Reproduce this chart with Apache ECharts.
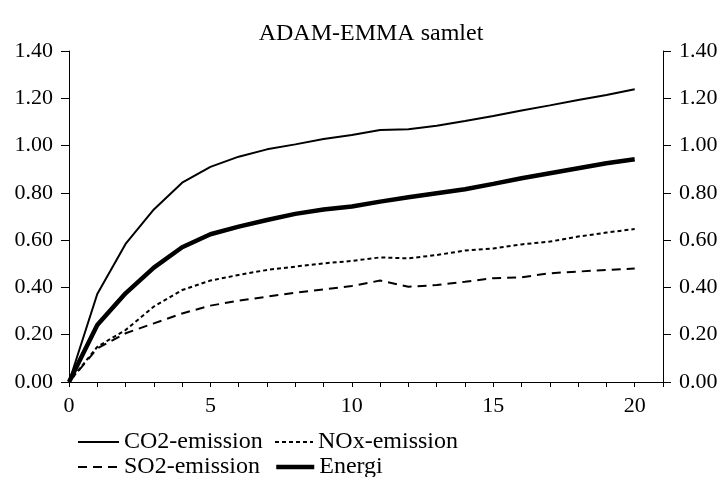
<!doctype html>
<html lang="da">
<head>
    <meta charset="UTF-8">
    <script src="https://cdn.jsdelivr.net/npm/echarts@6/dist/echarts.min.js"></script>
    <title>ADAM-EMMA samlet</title>
</head>
<body style="margin:0">
<div id="main" style="width: 722px;height:477px;"></div>
<script>
    // år 0..20
    var years = [0, 1, 2, 3, 4, 5, 6, 7, 8, 9, 10, 11, 12, 13, 14, 15, 16, 17, 18, 19, 20];
    var co2 = [0, 0.372, 0.584, 0.730, 0.843, 0.910, 0.953, 0.984, 1.005, 1.028, 1.045, 1.066, 1.069, 1.084, 1.104, 1.125, 1.148, 1.170, 1.193, 1.214, 1.238];
    var nox = [0, 0.149, 0.220, 0.319, 0.389, 0.429, 0.453, 0.474, 0.488, 0.502, 0.512, 0.527, 0.523, 0.537, 0.556, 0.565, 0.582, 0.594, 0.615, 0.632, 0.647];
    var so2 = [0, 0.142, 0.206, 0.248, 0.290, 0.323, 0.344, 0.361, 0.378, 0.392, 0.406, 0.429, 0.403, 0.410, 0.424, 0.439, 0.443, 0.460, 0.467, 0.474, 0.480];
    var energi = [0, 0.241, 0.375, 0.484, 0.570, 0.625, 0.657, 0.685, 0.711, 0.730, 0.742, 0.763, 0.781, 0.798, 0.815, 0.838, 0.862, 0.883, 0.904, 0.925, 0.942];

    function pairs(vals) {
        var out = [];
        for (var i = 0; i < years.length; i++) {
            out.push([years[i], vals[i]]);
        }
        return out;
    }

    var font = 'Liberation Serif';
    var legendText = {fontFamily: font, fontSize: 24, color: '#000'};

    function legendAt(name, left, top, w) {
        return {
            data: [name], left: left, top: top, padding: 0,
            itemWidth: w, itemHeight: 14, itemGap: 0,
            itemStyle: {opacity: 0},
            lineStyle: {width: 'inherit'},
            textStyle: legendText
        };
    }

    var yAxisBase = {
        type: 'value',
        min: 0,
        max: 1.4,
        interval: 0.2,
        splitLine: {show: false},
        axisLine: {show: true, lineStyle: {color: '#000', width: 1}},
        axisTick: {show: true, length: 8, lineStyle: {color: '#000'}},
        axisLabel: {
            margin: 16, fontFamily: font, fontSize: 22, color: '#000',
            formatter: function (v) { return v.toFixed(2); }
        }
    };

    var myChart = echarts.init(document.getElementById('main'));
    var option = {
        animation: false,
        backgroundColor: '#fff',
        title: {
            text: 'ADAM-EMMA samlet',
            left: 366,
            textAlign: 'center',
            top: 17,
            textStyle: {fontFamily: font, fontSize: 24, fontWeight: 'normal', color: '#000'}
        },
        grid: {left: 69, right: 59, top: 51, bottom: 95},
        legend: [
            legendAt('CO2-emission', 77, 430, 41),
            legendAt('NOx-emission', 274, 430, 38),
            legendAt('SO2-emission', 77, 455, 41),
            legendAt('Energi', 274, 455, 38)
        ],
        xAxis: {
            type: 'value',
            min: 0,
            max: 21,
            interval: 1,
            splitLine: {show: false},
            axisLine: {lineStyle: {color: '#000', width: 1}},
            axisTick: {length: 5, lineStyle: {color: '#000'}},
            axisLabel: {
                margin: 13, fontFamily: font, fontSize: 22, color: '#000',
                formatter: function (v) { return v % 5 === 0 ? String(v) : ''; }
            }
        },
        yAxis: [
            Object.assign({position: 'left'}, yAxisBase),
            Object.assign({position: 'right'}, yAxisBase)
        ],
        series: [
            {
                name: 'CO2-emission', type: 'line', symbol: 'none', data: pairs(co2),
                lineStyle: {color: '#000', width: 2},
                itemStyle: {color: '#000'}
            },
            {
                name: 'NOx-emission', type: 'line', symbol: 'none', data: pairs(nox),
                lineStyle: {color: '#000', width: 2, type: [4, 3]},
                itemStyle: {color: '#000'}
            },
            {
                name: 'SO2-emission', type: 'line', symbol: 'none', data: pairs(so2),
                lineStyle: {color: '#000', width: 2, type: [9, 6]},
                itemStyle: {color: '#000'}
            },
            {
                name: 'Energi', type: 'line', symbol: 'none', data: pairs(energi),
                lineStyle: {color: '#000', width: 4.5},
                itemStyle: {color: '#000'}
            }
        ]
    };
    myChart.setOption(option);
</script>
</body>
</html>
